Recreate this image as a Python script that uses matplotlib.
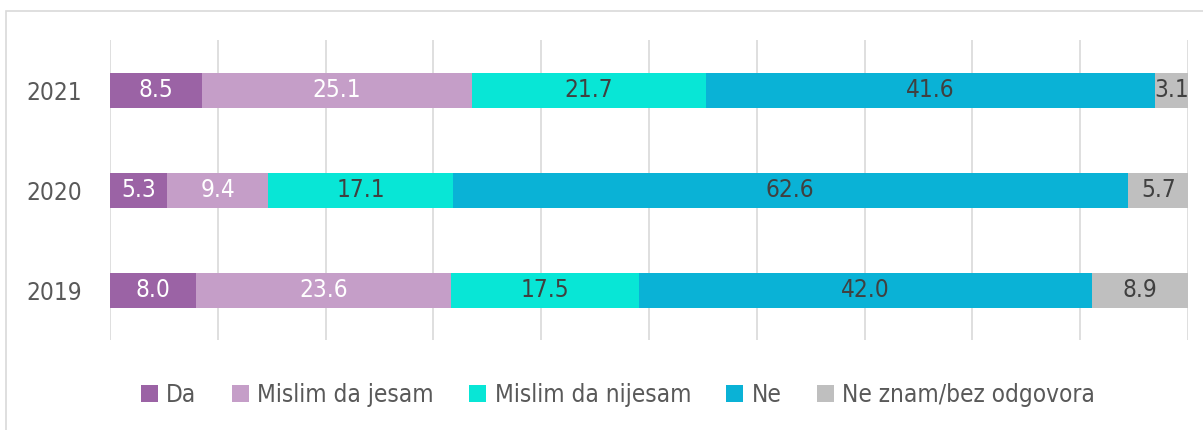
import matplotlib
matplotlib.use("Agg")
import matplotlib.pyplot as plt
from matplotlib.patches import Rectangle

years = ["2019", "2020", "2021"]
series = ["Da", "Mislim da jesam", "Mislim da nijesam", "Ne", "Ne znam/bez odgovora"]
da = [8.0, 5.3, 8.5]
mislim_jesam = [23.6, 9.4, 25.1]
mislim_nijesam = [17.5, 17.1, 21.7]
ne = [42.0, 62.6, 41.6]
ne_znam = [8.9, 5.7, 3.1]
values = [da, mislim_jesam, mislim_nijesam, ne, ne_znam]

colors = ["#9B63A5", "#C59EC8", "#08E6D6", "#0AB2D6", "#BFBFBF"]
text_colors = ["white", "white", "#404040", "#404040", "#404040"]

plt.rcParams['font.family'] = ['DejaVu Sans']
plt.rcParams['font.stretch'] = 'condensed'

fig = plt.figure(figsize=(12.03, 4.30), dpi=100)
# outer border
fig.patches.append(Rectangle((6/1203, -0.1), 1.2, (430-11)/430 + 0.1, transform=fig.transFigure,
                             fill=False, edgecolor="#D9D9D9", linewidth=1.2))

ax = fig.add_axes([110/1203, (430-340)/430, (1188-110)/1203, 300/430])
ypos = list(range(len(years)))
left = [0.0] * len(years)
for vals, name, c, tc in zip(values, series, colors, text_colors):
    bars = ax.barh(ypos, vals, left=left, height=0.35, color=c, label=name, zorder=3)
    for b, v, l in zip(bars, vals, left):
        ax.text(l + v / 2, b.get_y() + b.get_height() / 2, f"{v:.1f}", ha="center", va="center",
                color=tc, fontsize=17.5, fontstretch='condensed', zorder=4)
    left = [a + b for a, b in zip(left, vals)]

ax.set_xlim(0, 100)
ax.set_ylim(-0.5, 2.5)
ax.set_xticks(range(0, 101, 10))
ax.xaxis.grid(True, color="#D9D9D9", linewidth=1.2, zorder=0)
ax.set_xticklabels([])
ax.tick_params(axis="x", length=0)
ax.set_yticks(ypos)
ax.set_yticklabels(years, fontsize=17.5, color="#595959", fontstretch='condensed')
ax.tick_params(axis="y", length=0, pad=20)
for s in ax.spines.values():
    s.set_visible(False)

leg = fig.legend(loc="center", bbox_to_anchor=(618/1203, (430-395)/430), ncol=5, frameon=False,
                 prop={'size': 17.5, 'stretch': 'condensed'}, handlelength=0.7, handleheight=0.7,
                 handletextpad=0.35, columnspacing=1.45, labelcolor="#595959")

fig.savefig("out.png", dpi=100)
